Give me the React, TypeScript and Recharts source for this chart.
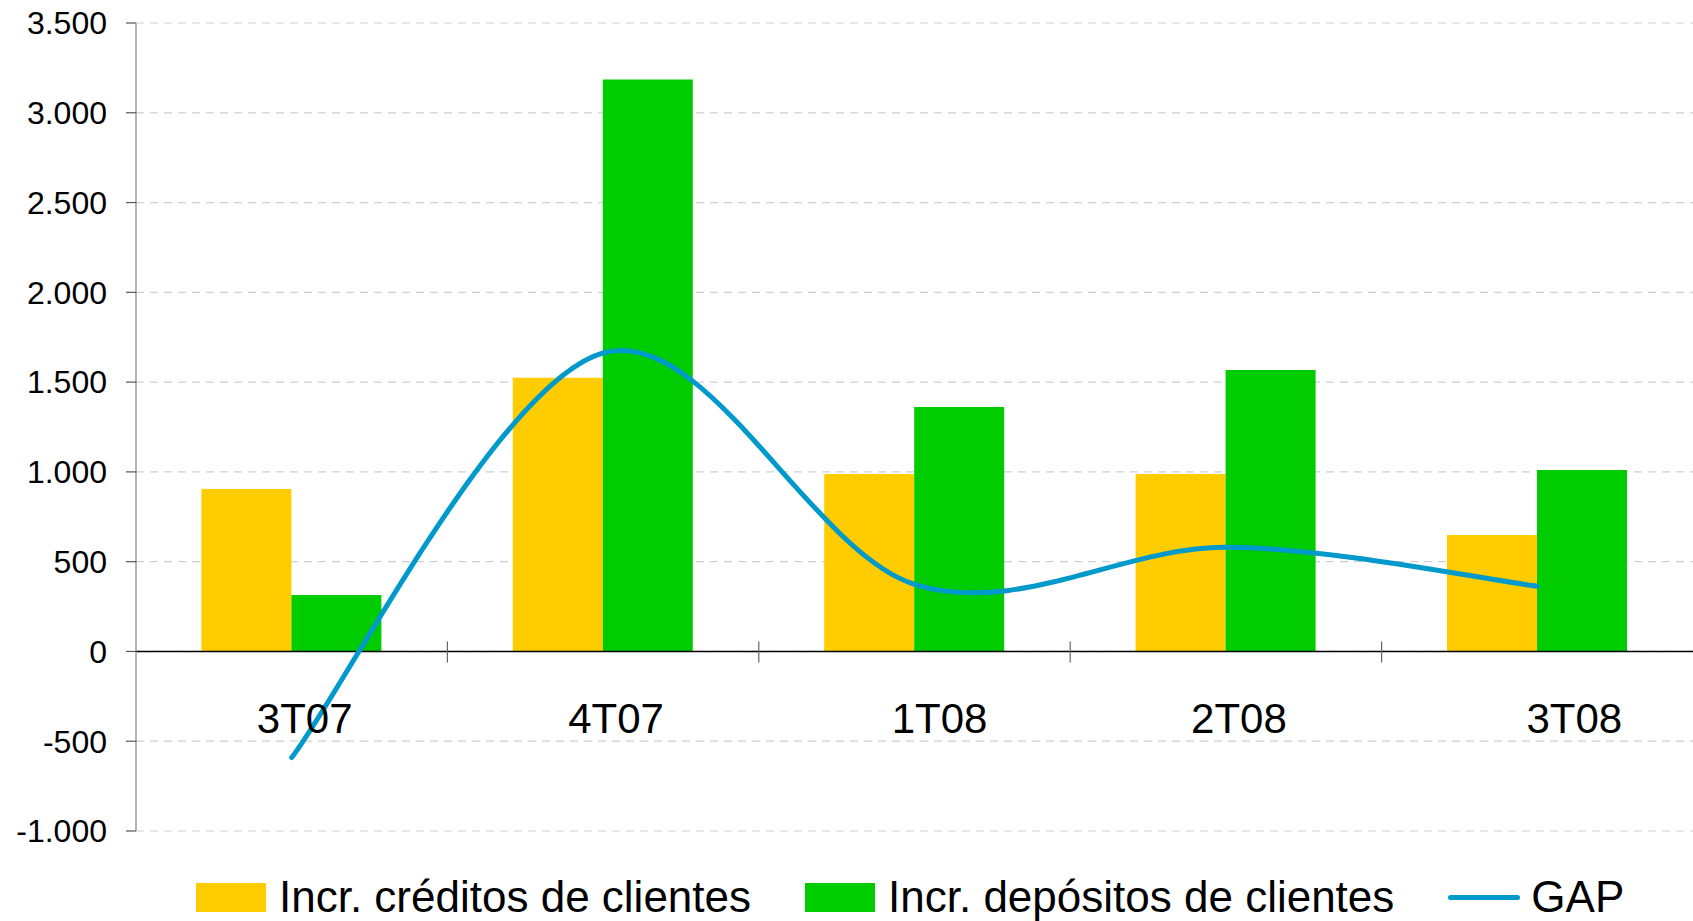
import {
  ComposedChart,
  Bar,
  Line,
  XAxis,
  YAxis,
  CartesianGrid,
  Legend,
  ReferenceLine,
  ReferenceDot,
} from "recharts";

// datos
const quarters = ["3T07", "4T07", "1T08", "2T08", "3T08"];
const creditos = [905, 1524, 988, 988, 648];
const depositos = [314, 3186, 1362, 1568, 1011];
const gap = [-591, 1662, 374, 580, 363];
const yTicks = [-1000, -500, 0, 500, 1000, 1500, 2000, 2500, 3000, 3500];
const seriesNames = [
  "Incr. créditos de clientes",
  "Incr. depósitos de clientes",
  "GAP",
];

const data = quarters.map((q, i) => ({
  q,
  creditos: creditos[i],
  depositos: depositos[i],
  gap: gap[i],
}));

const CHART_W = 1693;
const CHART_H = 921;
const Y_AXIS_W = 136;
const BAND = (CHART_W - Y_AXIS_W) / quarters.length;
const FONT = "'Liberation Sans', Arial, sans-serif";
// Excel no centra del todo las etiquetas del eje
const LABEL_DX = [13, 13, 25, 13, 37];

const YELLOW = "#FFCC00";
const GREEN = "#00CC00";
const BLUE = "#0099CC";

const fmt = (v: number) => String(v).replace(/\B(?=(\d{3})+(?!\d))/g, ".");

// suavizado tipo Excel (catmull-rom)
const smoothCurve = (context: any) => {
  let pts: number[][] = [];
  return {
    areaStart() {},
    areaEnd() {},
    lineStart() {
      pts = [];
    },
    point(x: number, y: number) {
      pts.push([+x, +y]);
    },
    lineEnd() {
      if (!pts.length) return;
      context.moveTo(pts[0][0], pts[0][1]);
      for (let i = 0; i < pts.length - 1; i++) {
        const p0 = pts[i - 1] || pts[i];
        const p1 = pts[i];
        const p2 = pts[i + 1];
        const p3 = pts[i + 2] || p2;
        context.bezierCurveTo(
          p1[0] + (p2[0] - p0[0]) / 6,
          p1[1] + (p2[1] - p0[1]) / 6,
          p2[0] - (p3[0] - p1[0]) / 6,
          p2[1] - (p3[1] - p1[1]) / 6,
          p2[0],
          p2[1],
        );
      }
    },
  };
};

const QuarterMark = ({ cx, cy, label, dx, last }: any) => (
  <g>
    {!last && (
      <line
        x1={cx + BAND / 2}
        x2={cx + BAND / 2}
        y1={cy - 10}
        y2={cy + 11}
        stroke="#666"
        strokeWidth={1.2}
      />
    )}
    <text
      x={cx + dx}
      y={cy + 82}
      textAnchor="middle"
      fontSize={42}
      fontFamily={FONT}
      fill="#000"
    >
      {label}
    </text>
  </g>
);

const LegendContent = ({ payload }: any) => {
  const items = [...(payload || [])].sort(
    (a: any, b: any) =>
      seriesNames.indexOf(a.value) - seriesNames.indexOf(b.value),
  );
  return (
    <div style={{ position: "relative", height: 90 }}>
      <div
        style={{
          position: "absolute",
          top: 44,
          left: 196,
          height: 44,
          display: "flex",
          alignItems: "center",
          fontFamily: FONT,
          fontSize: 44,
          color: "#000",
          whiteSpace: "nowrap",
        }}
      >
        {items.map((entry: any) => (
          <div
            key={entry.value}
            style={{ display: "flex", alignItems: "center", marginRight: 54 }}
          >
            {entry.type === "line" ? (
              <span
                style={{
                  display: "inline-block",
                  width: 72,
                  height: 5,
                  borderRadius: 3,
                  background: entry.color,
                  marginRight: 11,
                }}
              />
            ) : (
              <span
                style={{
                  display: "inline-block",
                  width: 70,
                  height: 29,
                  background: entry.color,
                  marginRight: 13,
                }}
              />
            )}
            <span style={{ lineHeight: "44px" }}>{entry.value}</span>
          </div>
        ))}
      </div>
    </div>
  );
};

export default function App() {
  return (
    <div style={{ position: "absolute", left: 0, top: 0, background: "#fff" }}>
      <ComposedChart
        width={CHART_W}
        height={CHART_H}
        data={data}
        margin={{ top: 23, right: 0, left: 0, bottom: 0 }}
        barCategoryGap="21%"
        barGap={0}
      >
        <CartesianGrid
          vertical={false}
          stroke="#cfcfcf"
          strokeDasharray="8 6"
          strokeWidth={1.2}
        />
        <XAxis dataKey="q" hide />
        <YAxis
          width={Y_AXIS_W}
          domain={[-1000, 3500]}
          ticks={yTicks}
          interval={0}
          tickFormatter={fmt}
          axisLine={{ stroke: "#808080", strokeWidth: 1.2 }}
          tickLine={{ stroke: "#555", strokeWidth: 1.2 }}
          tickSize={10}
          tickMargin={19}
          tick={{ fontSize: 32, fontFamily: FONT, fill: "#000" }}
        />
        <Bar
          dataKey="creditos"
          name={seriesNames[0]}
          fill={YELLOW}
          isAnimationActive={false}
        />
        <Bar
          dataKey="depositos"
          name={seriesNames[1]}
          fill={GREEN}
          isAnimationActive={false}
        />
        <ReferenceLine y={0} stroke="#000" strokeWidth={1.6} />
        {quarters.map((q, i) => (
          <ReferenceDot
            key={q}
            x={q}
            y={0}
            r={0}
            shape={(p: any) => (
              <QuarterMark
                {...p}
                label={q}
                dx={LABEL_DX[i]}
                last={i === quarters.length - 1}
              />
            )}
          />
        ))}
        <Line
          dataKey="gap"
          name={seriesNames[2]}
          type={smoothCurve as any}
          stroke={BLUE}
          strokeWidth={5}
          strokeLinecap="round"
          dot={false}
          activeDot={false}
          legendType="line"
          isAnimationActive={false}
        />
        <Legend verticalAlign="bottom" content={<LegendContent />} />
      </ComposedChart>
    </div>
  );
}
